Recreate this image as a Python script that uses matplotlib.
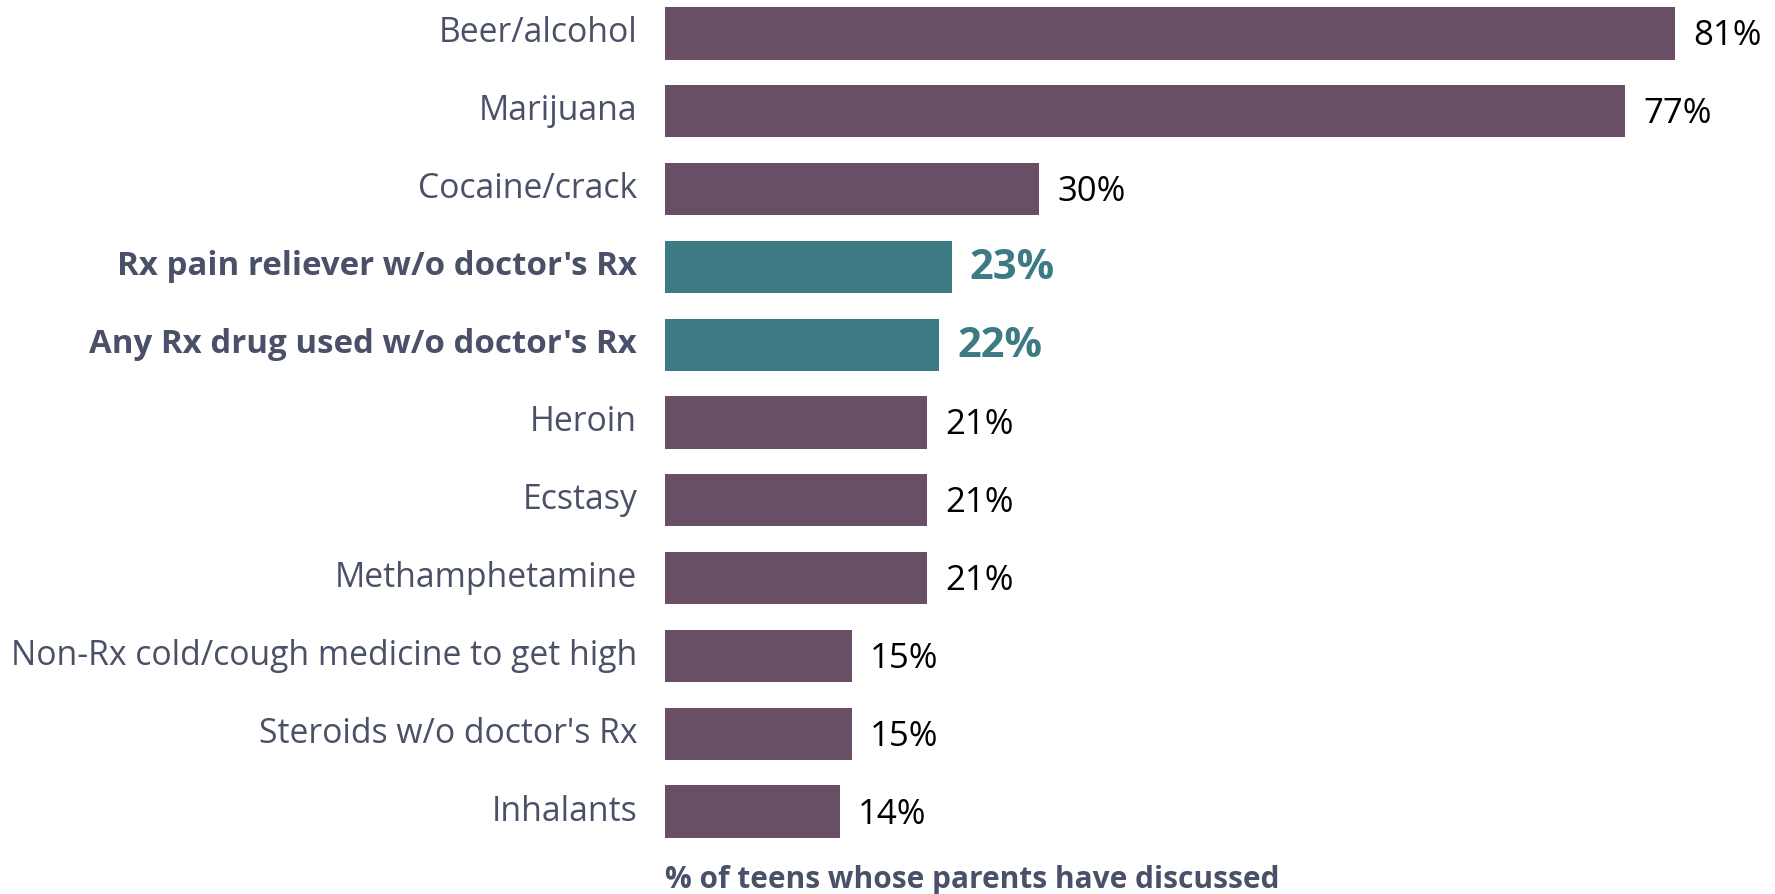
import matplotlib
matplotlib.use("Agg")
import matplotlib.pyplot as plt
import matplotlib.transforms as mtransforms

# share of teens whose parents have discussed each substance
substances = [
    "Beer/alcohol",
    "Marijuana",
    "Cocaine/crack",
    "Rx pain reliever w/o doctor's Rx",
    "Any Rx drug used w/o doctor's Rx",
    "Heroin",
    "Ecstasy",
    "Methamphetamine",
    "Non-Rx cold/cough medicine to get high",
    "Steroids w/o doctor's Rx",
    "Inhalants",
]
pct = [81, 77, 30, 23, 22, 21, 21, 21, 15, 15, 14]
highlight = [False, False, False, True, True, False, False, False, False, False, False]

PURPLE = "#684f66"
TEAL = "#3d7b84"
SLATE = "#4a5068"

plt.rcParams["font.family"] = ["Open Sans", "DejaVu Sans"]

fig = plt.figure(figsize=(17.75, 8.94), dpi=100)
ax = fig.add_axes([0.3746, 0, 0.6254, 1])

ypos = list(range(len(substances)))
colors = [TEAL if h else PURPLE for h in highlight]
ax.barh(ypos, pct, height=0.67, color=colors)

ax.set_xlim(0, 89)
ax.set_ylim(11.06, -0.43)

ax.set_yticks(ypos)
ax.set_yticklabels(substances)
ax.tick_params(axis="y", length=0, pad=20, labelsize=24.3, labelcolor=SLATE)
# nudge category names up a little
lift = mtransforms.ScaledTranslation(0, 4 / 100, fig.dpi_scale_trans)
for lab, h in zip(ax.get_yticklabels(), highlight):
    lab.set_transform(lab.get_transform() + lift)
    if h:
        lab.set_fontweight("bold")
        lab.set_fontsize(23.8)

ax.set_xticks([])
for s in ax.spines.values():
    s.set_visible(False)

for y, v, h in zip(ypos, pct, highlight):
    if h:
        ax.annotate(f"{v}%", (v, y), xytext=(18, -2), textcoords="offset pixels",
                    va="center", ha="left", fontsize=30, fontweight="bold", color=TEAL)
    else:
        ax.annotate(f"{v}%", (v, y), xytext=(18, -3), textcoords="offset pixels",
                    va="center", ha="left", fontsize=25, color="black")

ax.text(0, 10.88, "% of teens whose parents have discussed", ha="left", va="center",
        fontsize=21.5, fontweight="bold", color=SLATE)

fig.savefig("out.png", dpi=100)
